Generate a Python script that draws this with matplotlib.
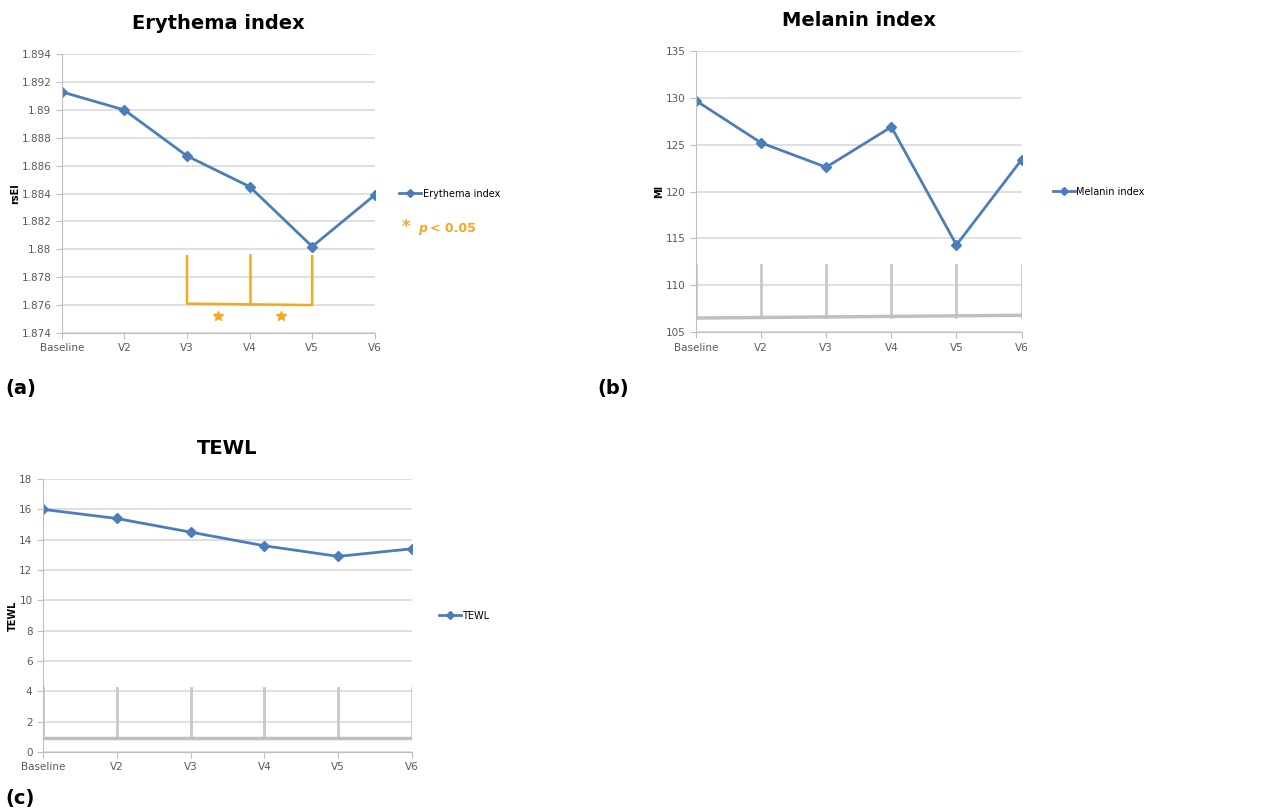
import numpy as np
import matplotlib.pyplot as plt

visits = ['Baseline', 'V2', 'V3', 'V4', 'V5', 'V6']
erythema = [1.8913, 1.8900, 1.8867, 1.8845, 1.8802, 1.8839]
melanin = [129.7, 125.2, 122.6, 126.9, 114.3, 123.4]
tewl = [16.0, 15.4, 14.5, 13.6, 12.9, 13.4]

blue = '#4a7ebb'
orange = '#f5a623'
grid = '#d9d9d9'
tick_col = '#595959'

fig = plt.figure(figsize=(12.62, 8.10), dpi=100)


def panel(rect, vals, ylim, step, title, ylabel, legend, fmt):
    ax = fig.add_axes(rect)
    x = np.arange(len(visits))
    ax.plot(x, vals, color=blue, lw=2, marker='D', ms=5, label=legend)
    ax.set_xlim(0, len(visits) - 1)
    ax.set_ylim(*ylim)
    yt = np.arange(ylim[0], ylim[1] + step / 2, step)
    ax.set_yticks(yt)
    ax.set_yticklabels([fmt(v) for v in yt])
    ax.set_xticks(x)
    ax.set_xticklabels(visits)
    ax.grid(axis='y', color=grid, lw=1.2)
    ax.set_axisbelow(True)
    for s in ['top', 'right']:
        ax.spines[s].set_visible(False)
    for s in ['left', 'bottom']:
        ax.spines[s].set_color('#bfbfbf')
    ax.tick_params(colors='#bfbfbf', labelcolor=tick_col, labelsize=7.5, length=4)
    ax.set_title(title, fontsize=14, fontweight='bold', pad=18)
    ax.set_ylabel(ylabel, fontsize=7, fontweight='bold', labelpad=1)
    return ax


def g4(v):
    s = ('%.3f' % v).rstrip('0').rstrip('.')
    return s


# (a) Erythema index
ax1 = panel([0.049, 0.589, 0.248, 0.344], erythema, (1.874, 1.894), 0.002,
            'Erythema index', 'rsEI', 'Erythema index', g4)
ax1.plot([2, 2, 4, 4], [1.8795, 1.8761, 1.8760, 1.8795], color=orange, lw=1.8)
ax1.plot([3, 3], [1.8796, 1.8761], color=orange, lw=1.8)
ax1.plot([2.5, 3.5], [1.8752, 1.8752], ls='none', marker='*', ms=7, color=orange)
ax1.legend(loc='center left', bbox_to_anchor=(1.05, 0.5), frameon=False,
           fontsize=7, handlelength=2.2, handletextpad=0.2, markerscale=0.8)
fig.text(0.318, 0.713, '*', color=orange, fontsize=12, fontweight='bold')
fig.text(0.331, 0.713, 'p', color=orange, fontsize=9, fontweight='bold', style='italic')
fig.text(0.341, 0.713, '< 0.05', color=orange, fontsize=9, fontweight='bold')

# (b) Melanin index
ax2 = panel([0.5515, 0.590, 0.258, 0.347], melanin, (105, 135), 5,
            'Melanin index', 'MI', 'Melanin index', lambda v: '%d' % v)
for i in range(len(visits)):
    ax2.plot([i, i], [112.2, 106.6], color='#c8c8c8', lw=2, zorder=1)
ax2.plot([0, 5.05], [106.5, 106.8], color='#c0c0c0', lw=2.5, zorder=1)
ax2.legend(loc='center left', bbox_to_anchor=(1.07, 0.5), frameon=False,
           fontsize=7, handlelength=2.2, handletextpad=0.2, markerscale=0.8)

# (c) TEWL
ax3 = panel([0.034, 0.0716, 0.2924, 0.337], tewl, (0, 18), 2,
            'TEWL', 'TEWL', 'TEWL', lambda v: '%d' % v)
for i in range(len(visits)):
    ax3.plot([i, i], [4.2, 1.0], color='#c8c8c8', lw=2, zorder=1)
ax3.plot([0, 5.03], [0.95, 0.95], color='#c0c0c0', lw=2.5, zorder=1)
ax3.legend(loc='center left', bbox_to_anchor=(1.05, 0.5), frameon=False,
           fontsize=7, handlelength=2.2, handletextpad=0.2, markerscale=0.8)

fig.text(0.004, 0.513, '(a)', fontsize=14, fontweight='bold')
fig.text(0.473, 0.513, '(b)', fontsize=14, fontweight='bold')
fig.text(0.004, 0.007, '(c)', fontsize=14, fontweight='bold')

fig.savefig('out.png', dpi=100)
